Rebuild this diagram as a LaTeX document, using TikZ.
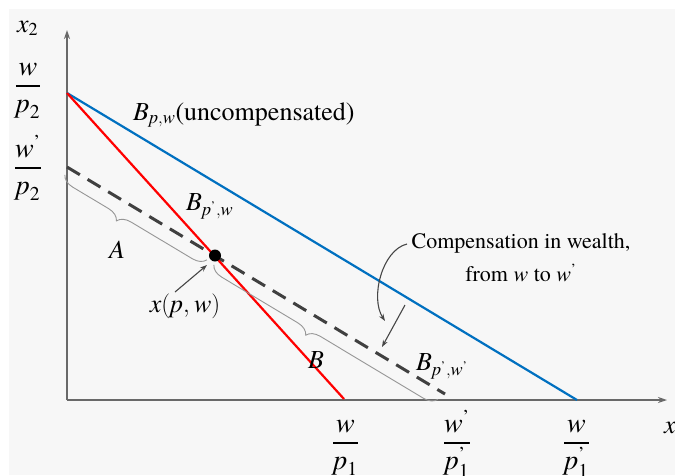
\documentclass[tikz,border=0pt]{standalone}
\usepackage{amsmath}
\usepackage{fontspec}
\setmainfont{texgyretermes}[Extension=.otf, UprightFont=*-regular, ItalicFont=*-italic, BoldFont=*-bold, BoldItalicFont=*-bolditalic]
\usetikzlibrary{arrows.meta,decorations.pathreplacing}
\definecolor{bgcol}{RGB}{247,247,247}
\definecolor{axiscol}{RGB}{105,105,105}
\definecolor{bluecol}{RGB}{0,112,192}
\definecolor{redcol}{RGB}{255,0,0}
\definecolor{dashcol}{RGB}{64,64,64}
\definecolor{bracecol}{RGB}{150,150,150}
\definecolor{arrcol}{RGB}{70,70,70}
\newcommand{\iv}[1]{\textit{#1}}
\newcommand{\up}[1]{\textrm{#1}}
\newcommand{\pr}{^{\textrm{'}}}
\newcommand{\fr}[2]{$\genfrac{}{}{1.5pt}{1}{\textstyle\rule[-8pt]{0pt}{0pt}#1}{\textstyle\rule{0pt}{24pt}#2}$}
\begin{document}
\begin{tikzpicture}[x=1pt,y=-1pt,
  lbl/.style={inner sep=0pt, font=\fontsize{26}{30}\selectfont},
  frac/.style={inner sep=0pt, anchor=base, font=\fontsize{28}{32}\selectfont},
  note/.style={inner sep=0pt, font=\fontsize{22}{26}\selectfont},
  axisline/.style={draw=axiscol, line width=2pt, -{Stealth[length=9pt,width=6pt]}},
  budget/.style={line width=2.2pt},
  brc/.style={draw=bracecol, line width=0.9pt, decorate,
    decoration={brace, mirror, raise=8pt, amplitude=13pt, aspect=#1}},
  arr/.style={draw=arrcol, line width=1.1pt, -{Stealth[length=7pt,width=5pt]}},
]
\useasboundingbox (0,0) rectangle (675,475);
\fill[white] (0,0) rectangle (675,475);
\fill[bgcol] (9,9) rectangle (675,475);

% axes
\coordinate (O) at (67,400);
\coordinate (ytop) at (67,30);
\coordinate (xend) at (667,400);
\draw[axisline] (O) -- (ytop);
\draw[axisline] (O) -- (xend);

% budget lines
\coordinate (Y1) at (67,93);
\coordinate (Xb) at (577,400);
\coordinate (Xr) at (344,399);
\coordinate (Y2) at (67,167);
\coordinate (Xd) at (445,394);
\draw[budget, bluecol] (Y1) -- (Xb);
\draw[dashcol, line width=3pt, dash pattern=on 15pt off 9pt] (Y2) -- (Xd);
\draw[budget, redcol] (Y1) -- (Xr);

% braces
\coordinate (Aa) at (69,168);
\coordinate (Ab) at (211,253);
\coordinate (Ba) at (218,258);
\coordinate (Bb) at (442,392.5);
\draw[brc=0.41] (Aa) -- (Ab);
\draw[brc=0.44] (Ba) -- (Bb);

% point
\node[circle, fill=black, inner sep=0pt, minimum size=12pt] (pt) at (215,255.5) {};

% axis fractions
\node[frac] (fy1) at (28,92) {\fr{\iv{w}}{\iv{p}_{\up{2}}}};
\node[frac] (fy2) at (28,174) {\fr{\iv{w}\pr}{\iv{p}_{\up{2}}}};
\node[frac] (fx1) at (345.5,449) {\fr{\iv{w}}{\iv{p}_{\up{1}}}};
\node[frac] (fx2) at (457,449) {\fr{\iv{w}\pr}{\iv{p}\pr_{\up{1}}}};
\node[frac] (fx3) at (576.5,449) {\fr{\iv{w}}{\iv{p}\pr_{\up{1}}}};

% axis labels
\node[lbl, anchor=base west] (x2) at (17,32) {$\iv{x}_{\up{2}}$};
\node[lbl, anchor=base west] (x1) at (664,433) {$\iv{x}_{\up{1}}$};

% labels
\node[lbl, anchor=base west] (bpw) at (133,120) {$\iv{B}_{\iv{p},\iv{w}}$(uncompensated)};
\node[lbl, anchor=base west] (bpdw) at (186,210) {$\iv{B}_{\iv{p}\pr,\iv{w}}$};
\node[lbl] (labA) at (117,250) {\iv{A}};
\node[lbl] (xpw) at (185,306) {$\iv{x}(\iv{p},\iv{w})$};
\node[lbl] (labB) at (316,360) {\iv{B}};
\node[lbl, anchor=base west] (bpdwd) at (416,370) {$\iv{B}_{\iv{p}\pr,\iv{w}\pr}$};
\node[note] (comp1) at (521,243) {Compensation in wealth,};
\node[note] (comp2) at (521,273) {from \iv{w} to \iv{w}\textsuperscript{'}};

% arrows
\coordinate (c0) at (407,244);
\coordinate (c1) at (385,321);
\draw[arr] (c0) .. controls (382,250) and (370,298) .. (c1);
\coordinate (s0) at (405,305);
\coordinate (s1) at (382,347);
\draw[arr] (s0) -- (s1);
\coordinate (x0) at (175,292);
\coordinate (xt) at (207,265);
\draw[arr] (x0) -- (xt);
\end{tikzpicture}
\end{document}
